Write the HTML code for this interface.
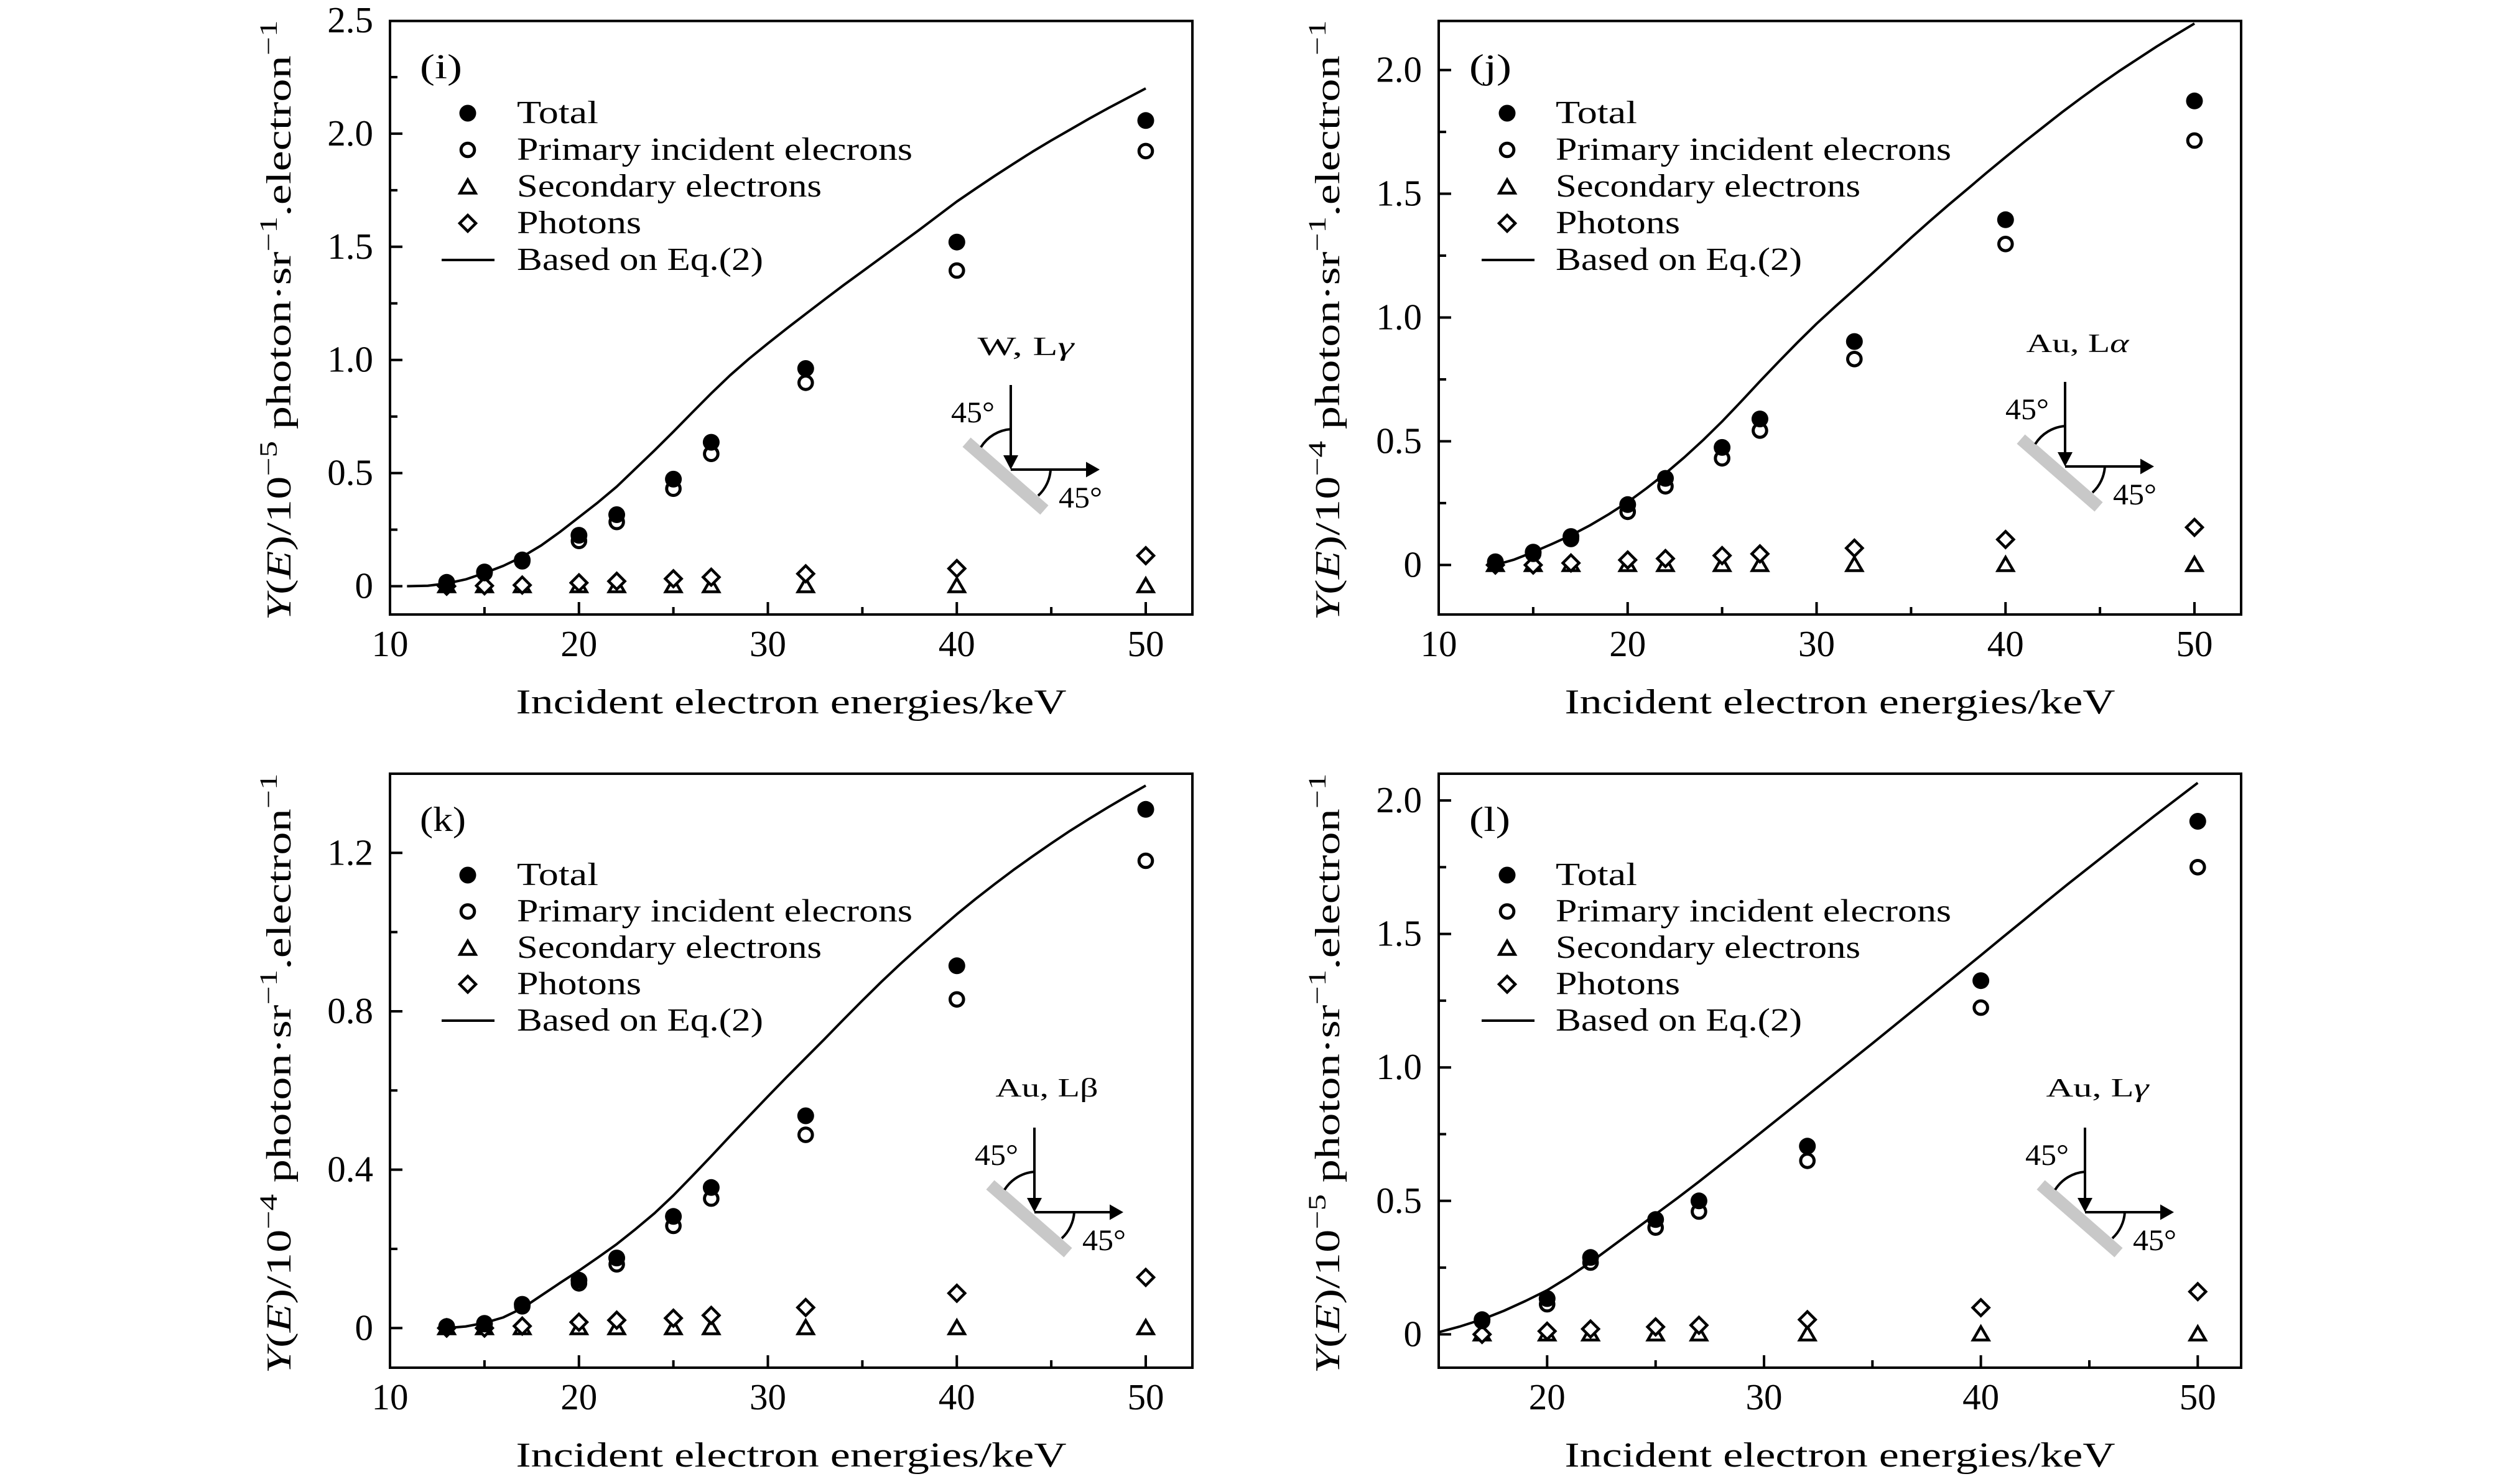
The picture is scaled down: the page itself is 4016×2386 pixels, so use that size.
<!DOCTYPE html>
<html>
<head>
<meta charset="utf-8">
<style>
html,body{margin:0;padding:0;background:#fff;}
svg{display:block;}
text{font-family:"Liberation Serif",serif;fill:#000;}
</style>
</head>
<body>
<svg xmlns="http://www.w3.org/2000/svg" xmlns:xlink="http://www.w3.org/1999/xlink" width="4016" height="2386" viewBox="0 0 4016 2386">
<defs>
<circle id="F" cx="0" cy="0" r="13.5" fill="#000"/>
<circle id="O" cx="0" cy="0" r="10.8" fill="none" stroke="#000" stroke-width="5"/>
<path id="T" d="M0,-11 L12.5,10.5 L-12.5,10.5 Z" fill="#fff" stroke="#000" stroke-width="4.5"/>
<path id="D" d="M0,-13 L13,0 L0,13 L-13,0 Z" fill="#fff" stroke="#000" stroke-width="4.5"/>
</defs>
<rect x="0" y="0" width="4016" height="2386" fill="#fff"/>

<!-- ================= PANEL (i) ================= -->
<g>
<polyline fill="none" stroke="#000" stroke-width="4" vector-effect="non-scaling-stroke" stroke-linejoin="round" transform="matrix(30.375 0 0 -363.8 323.25 942.5)" points="10.9,0 12,0.002 13,0.012 14,0.03 15,0.058 16,0.09 17,0.13 18,0.18 19,0.24 20,0.305 21,0.37 22,0.44 23,0.52 24,0.6 25,0.683 26,0.768 27,0.852 28,0.932 29,1.005 30,1.073 31,1.139 32,1.203 33,1.267 34,1.33 35,1.391 36,1.452 37,1.513 38,1.574 39,1.637 40,1.7 41,1.757 42,1.813 43,1.867 44,1.92 45,1.97 46,2.018 47,2.066 48,2.112 49,2.156 50,2.2"/>
<g>
<use href="#T" x="718.1" y="941"/><use href="#T" x="778.9" y="941"/><use href="#T" x="839.6" y="941"/><use href="#T" x="930.8" y="941"/><use href="#T" x="991.5" y="941"/><use href="#T" x="1082.6" y="941"/><use href="#T" x="1143.4" y="941"/><use href="#T" x="1295.3" y="941"/><use href="#T" x="1538.3" y="941"/><use href="#T" x="1842" y="941"/>
<use href="#D" x="718.1" y="942.5"/><use href="#D" x="778.9" y="941.8"/><use href="#D" x="839.6" y="940.7"/><use href="#D" x="930.8" y="937"/><use href="#D" x="991.5" y="934.5"/><use href="#D" x="1082.6" y="930.5"/><use href="#D" x="1143.4" y="928"/><use href="#D" x="1295.3" y="922.5"/><use href="#D" x="1538.3" y="914.1"/><use href="#D" x="1842" y="893.4"/>
<use href="#O" x="718.1" y="938.9"/><use href="#O" x="778.9" y="921.4"/><use href="#O" x="839.6" y="902.5"/><use href="#O" x="930.8" y="869.7"/><use href="#O" x="991.5" y="839.2"/><use href="#O" x="1082.6" y="785.7"/><use href="#O" x="1143.4" y="729.7"/><use href="#O" x="1295.3" y="615.4"/><use href="#O" x="1538.3" y="435"/><use href="#O" x="1842" y="242.9"/>
<use href="#F" x="718.1" y="936.3"/><use href="#F" x="778.9" y="919.6"/><use href="#F" x="839.6" y="900.3"/><use href="#F" x="930.8" y="860.6"/><use href="#F" x="991.5" y="827.5"/><use href="#F" x="1082.6" y="770.4"/><use href="#F" x="1143.4" y="711.1"/><use href="#F" x="1295.3" y="592.5"/><use href="#F" x="1538.3" y="389.2"/><use href="#F" x="1842" y="193.8"/>
</g>
<g transform="translate(1625,755)">
<line x1="-71" y1="-44" x2="54" y2="65" stroke="#c8c8c8" stroke-width="20"/>
<line x1="0" y1="-136" x2="0" y2="-20" stroke="#000" stroke-width="4"/>
<polygon points="-12,-23 12,-23 0,0" fill="#000"/>
<line x1="0" y1="0" x2="122" y2="0" stroke="#000" stroke-width="4"/>
<polygon points="121,-12.5 121,12.5 143,0" fill="#000"/>
<path d="M-48,-36 A62,62 0 0 1 0,-65" fill="none" stroke="#000" stroke-width="4"/>
<path d="M64,0 A62,62 0 0 1 44,42" fill="none" stroke="#000" stroke-width="4"/>
<text x="-96" y="-76" font-size="48" textLength="70" lengthAdjust="spacingAndGlyphs">45°</text>
<text x="77" y="61" font-size="48" textLength="70" lengthAdjust="spacingAndGlyphs">45°</text>
<text x="24" y="-184" text-anchor="middle" font-size="42" textLength="155" lengthAdjust="spacingAndGlyphs">W, L<tspan font-style="italic">γ</tspan></text>
</g>
<rect x="627" y="33.7" width="1290" height="954.3" fill="none" stroke="#000" stroke-width="4"/>
<path stroke="#000" stroke-width="4" fill="none" d="M627,942.5h20M627,760.6h20M627,578.7h20M627,396.8h20M627,214.9h20M627,851.6h12M627,669.7h12M627,487.8h12M627,305.9h12M627,124h12M930.75,988v-20M1234.5,988v-20M1538.25,988v-20M1842,988v-20M778.9,988v-12M1082.6,988v-12M1386.4,988v-12M1690.1,988v-12"/>
<g font-size="59" text-anchor="end">
<text x="600" y="961.5">0</text><text x="600" y="779.6">0.5</text><text x="600" y="597.7">1.0</text><text x="600" y="415.8">1.5</text><text x="600" y="233.9">2.0</text><text x="600" y="52">2.5</text>
</g>
<g font-size="59" text-anchor="middle">
<text x="627" y="1055">10</text><text x="930.75" y="1055">20</text><text x="1234.5" y="1055">30</text><text x="1538.25" y="1055">40</text><text x="1842" y="1055">50</text>
</g>
<text x="1272" y="1147" font-size="56" text-anchor="middle" textLength="885" lengthAdjust="spacingAndGlyphs">Incident electron energies/keV</text>
<text transform="translate(467,515) rotate(-90)" font-size="56" text-anchor="middle" textLength="965" lengthAdjust="spacingAndGlyphs"><tspan font-style="italic">Y</tspan>(<tspan font-style="italic">E</tspan>)/10<tspan font-size="40" dy="-22">−5</tspan><tspan dy="22"> photon·sr</tspan><tspan font-size="40" dy="-22">−1</tspan><tspan dy="22">.electron</tspan><tspan font-size="40" dy="-22">−1</tspan></text>
<text x="675" y="126" font-size="56" textLength="68" lengthAdjust="spacingAndGlyphs">(i)</text>
<use href="#F" x="752" y="182"/><use href="#O" x="752" y="241"/><use href="#T" x="752" y="300"/><use href="#D" x="752" y="359"/>
<line x1="710" y1="418" x2="795" y2="418" stroke="#000" stroke-width="4"/>
<g font-size="52">
<text x="831" y="198" textLength="131" lengthAdjust="spacingAndGlyphs">Total</text>
<text x="831" y="257" textLength="636" lengthAdjust="spacingAndGlyphs">Primary incident elecrons</text>
<text x="831" y="316" textLength="490" lengthAdjust="spacingAndGlyphs">Secondary electrons</text>
<text x="831" y="375" textLength="200" lengthAdjust="spacingAndGlyphs">Photons</text>
<text x="831" y="434" textLength="396" lengthAdjust="spacingAndGlyphs">Based on Eq.(2)</text>
</g>
</g>

<!-- ================= PANEL (j) ================= -->
<g>
<polyline fill="none" stroke="#000" stroke-width="4" vector-effect="non-scaling-stroke" stroke-linejoin="round" transform="matrix(30.375 0 0 -397.9 2009.25 908.4)" points="13,0 14,0.022 15,0.052 16,0.085 17,0.12 18,0.16 19,0.205 20,0.254 21,0.31 22,0.37 23,0.435 24,0.505 25,0.58 26,0.66 27,0.742 28,0.822 29,0.9 30,0.975 31,1.045 32,1.113 33,1.182 34,1.252 35,1.322 36,1.39 37,1.456 38,1.52 39,1.585 40,1.648 41,1.71 42,1.77 43,1.83 44,1.887 45,1.942 46,1.995 47,2.045 48,2.095 49,2.142 50,2.188"/>
<g>
<use href="#T" x="2404.1" y="907"/><use href="#T" x="2464.9" y="907"/><use href="#T" x="2525.6" y="907"/><use href="#T" x="2616.8" y="907"/><use href="#T" x="2677.5" y="907"/><use href="#T" x="2768.6" y="907"/><use href="#T" x="2829.4" y="907"/><use href="#T" x="2981.3" y="907"/><use href="#T" x="3224.3" y="907"/><use href="#T" x="3528" y="907"/>
<use href="#D" x="2404.1" y="908.4"/><use href="#D" x="2464.9" y="908.4"/><use href="#D" x="2525.6" y="905.2"/><use href="#D" x="2616.8" y="900.4"/><use href="#D" x="2677.5" y="898.1"/><use href="#D" x="2768.6" y="893.3"/><use href="#D" x="2829.4" y="890.5"/><use href="#D" x="2981.3" y="881.3"/><use href="#D" x="3224.3" y="867.4"/><use href="#D" x="3528" y="847.9"/>
<use href="#O" x="2404.1" y="906.4"/><use href="#O" x="2464.9" y="890.5"/><use href="#O" x="2525.6" y="866.6"/><use href="#O" x="2616.8" y="822.9"/><use href="#O" x="2677.5" y="781.9"/><use href="#O" x="2768.6" y="736.9"/><use href="#O" x="2829.4" y="692.3"/><use href="#O" x="2981.3" y="577.3"/><use href="#O" x="3224.3" y="392.3"/><use href="#O" x="3528" y="226"/>
<use href="#F" x="2404.1" y="903.2"/><use href="#F" x="2464.9" y="887.7"/><use href="#F" x="2525.6" y="862.6"/><use href="#F" x="2616.8" y="811.3"/><use href="#F" x="2677.5" y="769.1"/><use href="#F" x="2768.6" y="719.4"/><use href="#F" x="2829.4" y="673.6"/><use href="#F" x="2981.3" y="549.1"/><use href="#F" x="3224.3" y="353.3"/><use href="#F" x="3528" y="162.3"/>
</g>
<g transform="translate(3320,750)">
<line x1="-71" y1="-44" x2="54" y2="65" stroke="#c8c8c8" stroke-width="20"/>
<line x1="0" y1="-136" x2="0" y2="-20" stroke="#000" stroke-width="4"/>
<polygon points="-12,-23 12,-23 0,0" fill="#000"/>
<line x1="0" y1="0" x2="122" y2="0" stroke="#000" stroke-width="4"/>
<polygon points="121,-12.5 121,12.5 143,0" fill="#000"/>
<path d="M-48,-36 A62,62 0 0 1 0,-65" fill="none" stroke="#000" stroke-width="4"/>
<path d="M64,0 A62,62 0 0 1 44,42" fill="none" stroke="#000" stroke-width="4"/>
<text x="-96" y="-76" font-size="48" textLength="70" lengthAdjust="spacingAndGlyphs">45°</text>
<text x="77" y="61" font-size="48" textLength="70" lengthAdjust="spacingAndGlyphs">45°</text>
<text x="20" y="-184" text-anchor="middle" font-size="42" textLength="165" lengthAdjust="spacingAndGlyphs">Au, L<tspan font-style="italic">α</tspan></text>
</g>
<rect x="2313" y="33.7" width="1290" height="954.3" fill="none" stroke="#000" stroke-width="4"/>
<path stroke="#000" stroke-width="4" fill="none" d="M2313,908.4h20M2313,709.45h20M2313,510.5h20M2313,311.55h20M2313,112.6h20M2313,808.9h12M2313,610h12M2313,411h12M2313,212.1h12M2616.75,988v-20M2920.5,988v-20M3224.25,988v-20M3528,988v-20M2464.9,988v-12M2768.6,988v-12M3072.4,988v-12M3376.1,988v-12"/>
<g font-size="59" text-anchor="end">
<text x="2286" y="927.4">0</text><text x="2286" y="728.5">0.5</text><text x="2286" y="529.5">1.0</text><text x="2286" y="330.6">1.5</text><text x="2286" y="131.6">2.0</text>
</g>
<g font-size="59" text-anchor="middle">
<text x="2313" y="1055">10</text><text x="2616.75" y="1055">20</text><text x="2920.5" y="1055">30</text><text x="3224.25" y="1055">40</text><text x="3528" y="1055">50</text>
</g>
<text x="2958" y="1147" font-size="56" text-anchor="middle" textLength="885" lengthAdjust="spacingAndGlyphs">Incident electron energies/keV</text>
<text transform="translate(2153,515) rotate(-90)" font-size="56" text-anchor="middle" textLength="965" lengthAdjust="spacingAndGlyphs"><tspan font-style="italic">Y</tspan>(<tspan font-style="italic">E</tspan>)/10<tspan font-size="40" dy="-22">−4</tspan><tspan dy="22"> photon·sr</tspan><tspan font-size="40" dy="-22">−1</tspan><tspan dy="22">.electron</tspan><tspan font-size="40" dy="-22">−1</tspan></text>
<text x="2362" y="126" font-size="56" textLength="68" lengthAdjust="spacingAndGlyphs">(j)</text>
<use href="#F" x="2423" y="182"/><use href="#O" x="2423" y="241"/><use href="#T" x="2423" y="300"/><use href="#D" x="2423" y="359"/>
<line x1="2382" y1="418" x2="2467" y2="418" stroke="#000" stroke-width="4"/>
<g font-size="52">
<text x="2501" y="198" textLength="131" lengthAdjust="spacingAndGlyphs">Total</text>
<text x="2501" y="257" textLength="636" lengthAdjust="spacingAndGlyphs">Primary incident elecrons</text>
<text x="2501" y="316" textLength="490" lengthAdjust="spacingAndGlyphs">Secondary electrons</text>
<text x="2501" y="375" textLength="200" lengthAdjust="spacingAndGlyphs">Photons</text>
<text x="2501" y="434" textLength="396" lengthAdjust="spacingAndGlyphs">Based on Eq.(2)</text>
</g>
</g>

<!-- ================= PANEL (k) ================= -->
<g>
<polyline fill="none" stroke="#000" stroke-width="4" vector-effect="non-scaling-stroke" stroke-linejoin="round" transform="matrix(30.375 0 0 -636.67 323.25 2135.3)" points="13,0 14,0.004 15,0.013 16,0.027 17,0.05 18,0.082 19,0.114 20,0.145 21,0.178 22,0.212 23,0.25 24,0.29 25,0.335 26,0.384 27,0.434 28,0.485 29,0.535 30,0.585 31,0.634 32,0.682 33,0.73 34,0.779 35,0.827 36,0.874 37,0.919 38,0.962 39,1.004 40,1.045 41,1.084 42,1.121 43,1.157 44,1.191 45,1.224 46,1.256 47,1.286 48,1.315 49,1.343 50,1.37"/>
<g>
<use href="#T" x="718.1" y="2134"/><use href="#T" x="778.9" y="2134"/><use href="#T" x="839.6" y="2134"/><use href="#T" x="930.8" y="2134"/><use href="#T" x="991.5" y="2134"/><use href="#T" x="1082.6" y="2134"/><use href="#T" x="1143.4" y="2134"/><use href="#T" x="1295.3" y="2134"/><use href="#T" x="1538.3" y="2134"/><use href="#T" x="1842" y="2134"/>
<use href="#D" x="718.1" y="2135.3"/><use href="#D" x="778.9" y="2135.3"/><use href="#D" x="839.6" y="2132.1"/><use href="#D" x="930.8" y="2125.8"/><use href="#D" x="991.5" y="2122.6"/><use href="#D" x="1082.6" y="2119.4"/><use href="#D" x="1143.4" y="2114.9"/><use href="#D" x="1295.3" y="2102.2"/><use href="#D" x="1538.3" y="2079.3"/><use href="#D" x="1842" y="2053.8"/>
<use href="#O" x="718.1" y="2133.4"/><use href="#O" x="778.9" y="2129"/><use href="#O" x="839.6" y="2100.3"/><use href="#O" x="930.8" y="2063.4"/><use href="#O" x="991.5" y="2032.8"/><use href="#O" x="1082.6" y="1971"/><use href="#O" x="1143.4" y="1927.1"/><use href="#O" x="1295.3" y="1824.6"/><use href="#O" x="1538.3" y="1606.9"/><use href="#O" x="1842" y="1384"/>
<use href="#F" x="718.1" y="2132.8"/><use href="#F" x="778.9" y="2127.7"/><use href="#F" x="839.6" y="2097.1"/><use href="#F" x="930.8" y="2058.3"/><use href="#F" x="991.5" y="2022.6"/><use href="#F" x="1082.6" y="1955.8"/><use href="#F" x="1143.4" y="1909.3"/><use href="#F" x="1295.3" y="1794"/><use href="#F" x="1538.3" y="1552.8"/><use href="#F" x="1842" y="1301.3"/>
</g>
<g transform="translate(1663,1949)">
<line x1="-71" y1="-44" x2="54" y2="65" stroke="#c8c8c8" stroke-width="20"/>
<line x1="0" y1="-136" x2="0" y2="-20" stroke="#000" stroke-width="4"/>
<polygon points="-12,-23 12,-23 0,0" fill="#000"/>
<line x1="0" y1="0" x2="122" y2="0" stroke="#000" stroke-width="4"/>
<polygon points="121,-12.5 121,12.5 143,0" fill="#000"/>
<path d="M-48,-36 A62,62 0 0 1 0,-65" fill="none" stroke="#000" stroke-width="4"/>
<path d="M64,0 A62,62 0 0 1 44,42" fill="none" stroke="#000" stroke-width="4"/>
<text x="-96" y="-76" font-size="48" textLength="70" lengthAdjust="spacingAndGlyphs">45°</text>
<text x="77" y="61" font-size="48" textLength="70" lengthAdjust="spacingAndGlyphs">45°</text>
<text x="20" y="-186" text-anchor="middle" font-size="42" textLength="165" lengthAdjust="spacingAndGlyphs">Au, Lβ</text>
</g>
<rect x="627" y="1244" width="1290" height="955" fill="none" stroke="#000" stroke-width="4"/>
<path stroke="#000" stroke-width="4" fill="none" d="M627,2135.3h20M627,1880.6h20M627,1626h20M627,1371.3h20M627,2008h12M627,1753.3h12M627,1498.6h12M930.75,2199v-20M1234.5,2199v-20M1538.25,2199v-20M1842,2199v-20M778.9,2199v-12M1082.6,2199v-12M1386.4,2199v-12M1690.1,2199v-12"/>
<g font-size="59" text-anchor="end">
<text x="600" y="2154.3">0</text><text x="600" y="1899.6">0.4</text><text x="600" y="1645">0.8</text><text x="600" y="1390.3">1.2</text>
</g>
<g font-size="59" text-anchor="middle">
<text x="627" y="2266">10</text><text x="930.75" y="2266">20</text><text x="1234.5" y="2266">30</text><text x="1538.25" y="2266">40</text><text x="1842" y="2266">50</text>
</g>
<text x="1272" y="2358" font-size="56" text-anchor="middle" textLength="885" lengthAdjust="spacingAndGlyphs">Incident electron energies/keV</text>
<text transform="translate(467,1726) rotate(-90)" font-size="56" text-anchor="middle" textLength="965" lengthAdjust="spacingAndGlyphs"><tspan font-style="italic">Y</tspan>(<tspan font-style="italic">E</tspan>)/10<tspan font-size="40" dy="-22">−4</tspan><tspan dy="22"> photon·sr</tspan><tspan font-size="40" dy="-22">−1</tspan><tspan dy="22">.electron</tspan><tspan font-size="40" dy="-22">−1</tspan></text>
<text x="675" y="1336" font-size="56" textLength="74" lengthAdjust="spacingAndGlyphs">(k)</text>
<use href="#F" x="752" y="1407"/><use href="#O" x="752" y="1465.5"/><use href="#T" x="752" y="1524"/><use href="#D" x="752" y="1582.5"/>
<line x1="710" y1="1641" x2="795" y2="1641" stroke="#000" stroke-width="4"/>
<g font-size="52">
<text x="831" y="1423" textLength="131" lengthAdjust="spacingAndGlyphs">Total</text>
<text x="831" y="1481.5" textLength="636" lengthAdjust="spacingAndGlyphs">Primary incident elecrons</text>
<text x="831" y="1540" textLength="490" lengthAdjust="spacingAndGlyphs">Secondary electrons</text>
<text x="831" y="1598.5" textLength="200" lengthAdjust="spacingAndGlyphs">Photons</text>
<text x="831" y="1657" textLength="396" lengthAdjust="spacingAndGlyphs">Based on Eq.(2)</text>
</g>
</g>

<!-- ================= PANEL (l) ================= -->
<g>
<polyline fill="none" stroke="#000" stroke-width="4" vector-effect="non-scaling-stroke" stroke-linejoin="round" transform="matrix(34.865 0 0 -429.2 1790.03 2145.4)" points="15,0.008 16,0.03 17,0.056 18,0.088 19,0.125 20,0.165 21,0.215 22,0.27 23,0.33 24,0.39 25,0.45 26,0.51 27,0.572 28,0.636 29,0.7 30,0.765 31,0.83 32,0.895 33,0.96 34,1.025 35,1.09 36,1.156 37,1.222 38,1.288 39,1.354 40,1.42 41,1.487 42,1.553 43,1.62 44,1.686 45,1.75 46,1.814 47,1.878 48,1.942 49,2.004 50,2.066"/>
<g>
<use href="#T" x="2382.7" y="2144"/><use href="#T" x="2487.3" y="2144"/><use href="#T" x="2557.1" y="2144"/><use href="#T" x="2661.7" y="2144"/><use href="#T" x="2731.4" y="2144"/><use href="#T" x="2905.7" y="2144"/><use href="#T" x="3184.6" y="2144"/><use href="#T" x="3533.3" y="2144"/>
<use href="#D" x="2382.7" y="2145.4"/><use href="#D" x="2487.3" y="2140.3"/><use href="#D" x="2557.1" y="2136.8"/><use href="#D" x="2661.7" y="2133.4"/><use href="#D" x="2731.4" y="2130.8"/><use href="#D" x="2905.7" y="2121.8"/><use href="#D" x="3184.6" y="2102.5"/><use href="#D" x="3533.3" y="2076.7"/>
<use href="#O" x="2382.7" y="2124"/><use href="#O" x="2487.3" y="2097"/><use href="#O" x="2557.1" y="2030"/><use href="#O" x="2661.7" y="1973.7"/><use href="#O" x="2731.4" y="1948"/><use href="#O" x="2905.7" y="1866.4"/><use href="#O" x="3184.6" y="1620.1"/><use href="#O" x="3533.3" y="1394.3"/>
<use href="#F" x="2382.7" y="2121.8"/><use href="#F" x="2487.3" y="2087.9"/><use href="#F" x="2557.1" y="2021.8"/><use href="#F" x="2661.7" y="1960.8"/><use href="#F" x="2731.4" y="1930.8"/><use href="#F" x="2905.7" y="1842.8"/><use href="#F" x="3184.6" y="1576.7"/><use href="#F" x="3533.3" y="1320.5"/>
</g>
<g transform="translate(3352,1949)">
<line x1="-71" y1="-44" x2="54" y2="65" stroke="#c8c8c8" stroke-width="20"/>
<line x1="0" y1="-136" x2="0" y2="-20" stroke="#000" stroke-width="4"/>
<polygon points="-12,-23 12,-23 0,0" fill="#000"/>
<line x1="0" y1="0" x2="122" y2="0" stroke="#000" stroke-width="4"/>
<polygon points="121,-12.5 121,12.5 143,0" fill="#000"/>
<path d="M-48,-36 A62,62 0 0 1 0,-65" fill="none" stroke="#000" stroke-width="4"/>
<path d="M64,0 A62,62 0 0 1 44,42" fill="none" stroke="#000" stroke-width="4"/>
<text x="-96" y="-76" font-size="48" textLength="70" lengthAdjust="spacingAndGlyphs">45°</text>
<text x="77" y="61" font-size="48" textLength="70" lengthAdjust="spacingAndGlyphs">45°</text>
<text x="20" y="-186" text-anchor="middle" font-size="42" textLength="165" lengthAdjust="spacingAndGlyphs">Au, L<tspan font-style="italic">γ</tspan></text>
</g>
<rect x="2313" y="1244" width="1290" height="955" fill="none" stroke="#000" stroke-width="4"/>
<path stroke="#000" stroke-width="4" fill="none" d="M2313,2145.4h20M2313,1930.8h20M2313,1716.2h20M2313,1501.6h20M2313,1287h20M2313,2038.1h12M2313,1823.5h12M2313,1608.9h12M2313,1394.3h12M2487.3,2199v-20M2836,2199v-20M3184.6,2199v-20M3533.3,2199v-20M2661.7,2199v-12M3010.3,2199v-12M3359,2199v-12"/>
<g font-size="59" text-anchor="end">
<text x="2286" y="2164.4">0</text><text x="2286" y="1949.8">0.5</text><text x="2286" y="1735.2">1.0</text><text x="2286" y="1520.6">1.5</text><text x="2286" y="1306">2.0</text>
</g>
<g font-size="59" text-anchor="middle">
<text x="2487.3" y="2266">20</text><text x="2836" y="2266">30</text><text x="3184.6" y="2266">40</text><text x="3533.3" y="2266">50</text>
</g>
<text x="2958" y="2358" font-size="56" text-anchor="middle" textLength="885" lengthAdjust="spacingAndGlyphs">Incident electron energies/keV</text>
<text transform="translate(2153,1726) rotate(-90)" font-size="56" text-anchor="middle" textLength="965" lengthAdjust="spacingAndGlyphs"><tspan font-style="italic">Y</tspan>(<tspan font-style="italic">E</tspan>)/10<tspan font-size="40" dy="-22">−5</tspan><tspan dy="22"> photon·sr</tspan><tspan font-size="40" dy="-22">−1</tspan><tspan dy="22">.electron</tspan><tspan font-size="40" dy="-22">−1</tspan></text>
<text x="2362" y="1336" font-size="56" textLength="66" lengthAdjust="spacingAndGlyphs">(l)</text>
<use href="#F" x="2423" y="1407"/><use href="#O" x="2423" y="1465.5"/><use href="#T" x="2423" y="1524"/><use href="#D" x="2423" y="1582.5"/>
<line x1="2382" y1="1641" x2="2467" y2="1641" stroke="#000" stroke-width="4"/>
<g font-size="52">
<text x="2501" y="1423" textLength="131" lengthAdjust="spacingAndGlyphs">Total</text>
<text x="2501" y="1481.5" textLength="636" lengthAdjust="spacingAndGlyphs">Primary incident elecrons</text>
<text x="2501" y="1540" textLength="490" lengthAdjust="spacingAndGlyphs">Secondary electrons</text>
<text x="2501" y="1598.5" textLength="200" lengthAdjust="spacingAndGlyphs">Photons</text>
<text x="2501" y="1657" textLength="396" lengthAdjust="spacingAndGlyphs">Based on Eq.(2)</text>
</g>
</g>
</svg>
</body>
</html>
